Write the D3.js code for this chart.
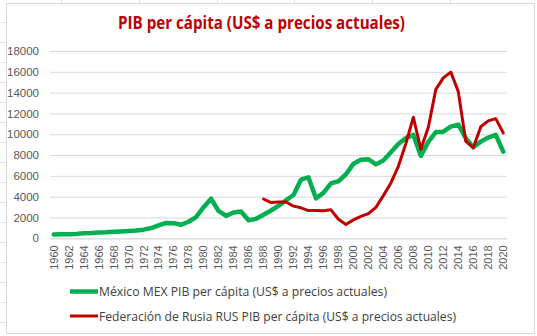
<!DOCTYPE html>
<html><head><meta charset="utf-8">
<script src="https://cdn.jsdelivr.net/npm/d3@7"></script>
<style>html,body{margin:0;padding:0;background:#fff;}svg{display:block;}</style>
</head><body>
<svg id="c" width="537" height="336"></svg>
<script>
const years = d3.range(1960, 2021);
const mexico = [360,379,394,425,485,509,550,577,621,658,708,752,831,984,1243,1476,1454,1301,1589,2035,2987,3802,2627,2158,2478,2572,1734,1870,2258,2673,3112,3659,4160,5635,5853,3839,4368,5277,5479,6154,7158,7544,7596,7104,7483,8277,9068,9631,9936,7925,9271,10204,10241,10725,10922,9616,8744,9288,9687,9946,8329];
const russiaYears = d3.range(1988, 2021);
const russia = [3777,3429,3490,3485,3095,2930,2663,2666,2644,2738,1834,1331,1772,2100,2377,2975,4102,5324,6920,9101,11635,8563,10675,14311,15420,15974,14096,9313,8705,10720,11287,11497,10127];
const yTicks = [0,2000,4000,6000,8000,10000,12000,14000,16000,18000];
const title = "PIB per cápita (US$ a precios actuales)";
const legendLabels = ["México MEX PIB per cápita (US$ a precios actuales)","Federación de Rusia RUS PIB per cápita (US$ a precios actuales)"];
const colors = ["#00B050","#C00000"];

const svg = d3.select("#c");
// spreadsheet background gridlines
const bg = svg.append("g").attr("stroke","#E1E1E1").attr("stroke-width",1);
[61,139,217,294,372,450].forEach(x=>bg.append("line").attr("x1",x+0.5).attr("x2",x+0.5).attr("y1",0).attr("y2",4));
[22,42,62,82,102,122,142,162,182,202,222,242,262,282,302,322].forEach(y=>bg.append("line").attr("x1",0).attr("x2",6).attr("y1",y+0.5).attr("y2",y+0.5));
// chart area
svg.append("rect").attr("x",6.5).attr("y",3.5).attr("width",528).attr("height",330).attr("fill","#fff").attr("stroke","#D9D9D9");

const x = d3.scaleBand().domain(years).range([50,507]);
const y = d3.scaleLinear().domain([0,18000]).range([238.3,51]);
const cx = d => x(d)+x.bandwidth()/2;

// gridlines
const yAxis = d3.axisLeft(y).tickValues(yTicks).tickSize(-(457)).tickFormat(d3.format("d")).tickPadding(11);
const gy = svg.append("g").attr("transform","translate(50,0)").call(yAxis);
gy.select(".domain").remove();
gy.selectAll(".tick line").attr("stroke","#D9D9D9").attr("stroke-width",1);
gy.selectAll(".tick text").attr("fill","#595959").attr("font-family","Liberation Sans, Arial, sans-serif").attr("font-size","11.5px");

// x axis
const xAxis = d3.axisBottom(x).tickValues(years.filter(d=>d%2===0)).tickSize(0).tickPadding(0);
const gx = svg.append("g").attr("transform","translate(0,238.3)").call(xAxis);
gx.select(".domain").attr("stroke","#D9D9D9");
gx.selectAll(".tick text").attr("fill","#595959").attr("font-family","Liberation Sans, Arial, sans-serif").attr("font-size","11px")
  .attr("transform","rotate(-90)").attr("text-anchor","end").attr("x",-7).attr("y",0).attr("dy","0.35em");

// lines
const line = d3.line().x(d=>cx(d[0])).y(d=>y(d[1]));
svg.append("path").datum(years.map((yr,i)=>[yr,mexico[i]])).attr("d",line).attr("fill","none").attr("stroke",colors[0]).attr("stroke-width",4.5).attr("stroke-linejoin","round").attr("stroke-linecap","round");
svg.append("path").datum(russiaYears.map((yr,i)=>[yr,russia[i]])).attr("d",line).attr("fill","none").attr("stroke",colors[1]).attr("stroke-width",3).attr("stroke-linejoin","round").attr("stroke-linecap","round");

// title
svg.append("text").attr("x",261.5).attr("y",29).attr("text-anchor","middle").attr("fill","#C00000")
  .attr("font-family","Open Sans, Liberation Sans, sans-serif").attr("font-weight","bold").attr("font-size","18px")
  .attr("textLength",287).attr("lengthAdjust","spacingAndGlyphs").text(title);

// legend
const legY = [291.5, 316];
const legW = [288, 357];
legendLabels.forEach((t,i)=>{
  svg.append("line").attr("x1",70).attr("x2",98).attr("y1",legY[i]).attr("y2",legY[i]).attr("stroke",colors[i]).attr("stroke-width",i===0?4.5:3);
  svg.append("text").attr("x",99).attr("y",legY[i]).attr("dy","0.35em").attr("fill","#404040")
    .attr("font-family","Open Sans, Liberation Sans, sans-serif").attr("font-size","13px")
    .attr("textLength",legW[i]).attr("lengthAdjust","spacingAndGlyphs").text(t);
});
</script>
</body></html>
